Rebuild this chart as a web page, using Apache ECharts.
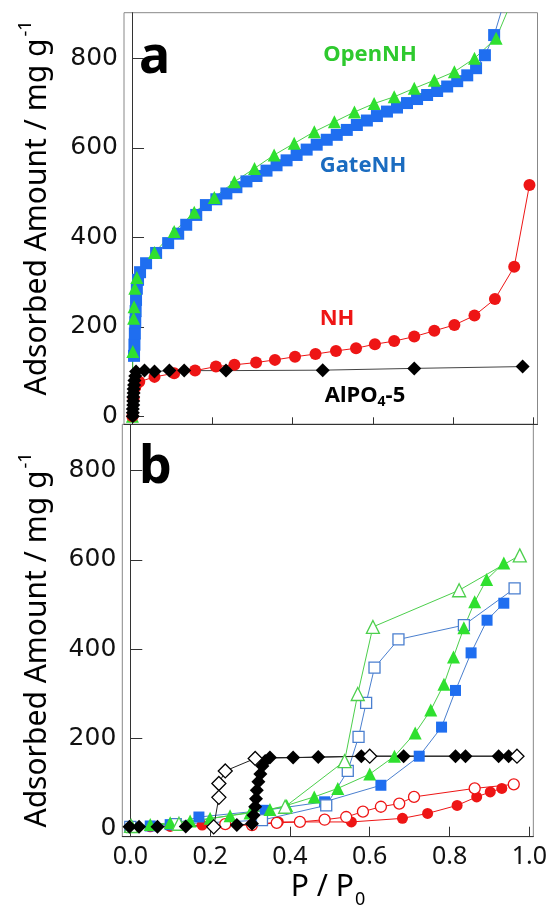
<!DOCTYPE html>
<html><head><meta charset="utf-8">
<script src="https://cdn.jsdelivr.net/npm/echarts@6/dist/echarts.min.js"></script>
<style>html,body{margin:0;padding:0;background:#fff}#c{width:550px;height:919px}</style>
</head><body><div id="c"></div>
<script>
// ---------- Panel a data (P/P0, adsorbed amount) ----------
const aGateP = [0.005,0.006,0.007,0.008,0.009,0.010,0.012,0.015,0.020,0.035,0.060,0.090,0.115,0.135,0.160,0.184,0.210,0.235,0.260,0.285,0.310,0.335,0.360,0.385,0.410,0.435,0.460,0.485,0.510,0.535,0.560,0.585,0.610,0.635,0.660,0.685,0.710,0.735,0.760,0.785,0.810,0.835,0.857,0.879,0.902,0.935];
const aGateV = [135,160,185,210,235,260,285,305,322,342,365,387,408,428,450,472,485,498,512,525,537,549,561,572,584,596,607,618,629,640,651,661,671,681,690,700,709,718,727,737,749,762,778,807,852,950];
const aOpenP = [0.001,0.002,0.004,0.005,0.007,0.012,0.056,0.105,0.155,0.205,0.255,0.305,0.354,0.404,0.454,0.504,0.554,0.603,0.653,0.703,0.753,0.803,0.853,0.907,0.950];
const aOpenV = [0,145,219,245,286,310,366,413,456,489,524,554,584,610,636,658,680,699,714,733,751,770,800,845,937];
const aNHP = [0.001,0.004,0.008,0.018,0.056,0.105,0.157,0.209,0.255,0.309,0.356,0.406,0.457,0.508,0.558,0.605,0.653,0.703,0.753,0.803,0.853,0.904,0.952,0.990];
const aNHV = [0,40,65,77,88,96,102,111,115,120,126,133,139,146,152,161,168,178,191,204,225,262,334,517];
const aAlpoP = [0.002,0.002,0.002,0.003,0.003,0.003,0.004,0.004,0.005,0.006,0.008,0.010,0.031,0.056,0.093,0.130,0.234,0.475,0.703,0.973];
const aAlpoV = [0,8,16,25,34,43,52,61,70,80,90,100,102,100,102,102,102,103,107,111];

// ---------- Panel b data ----------
const bOpenAdsP = [0.005,0.050,0.100,0.150,0.200,0.250,0.300,0.350,0.392,0.461,0.520,0.600,0.662,0.714,0.753,0.786,0.810,0.836,0.863,0.893,0.936];
const bOpenAdsV = [3,8,12,16,22,28,34,42,51,70,89,121,161,213,264,322,383,448,506,556,593];
const bOpenDesP = [0.976,0.824,0.608,0.570,0.537,0.388,0.122,0.002];
const bOpenDesV = [610,532,450,300,150,48,10,5];
const bGateAdsP = [0.002,0.050,0.100,0.172,0.338,0.487,0.628,0.724,0.780,0.815,0.854,0.894,0.936];
const bGateAdsV = [3,5,8,25,40,59,96,161,226,308,392,465,503];
const bGateDesP = [0.963,0.836,0.672,0.612,0.591,0.572,0.545,0.491,0.330,0.114,0.000];
const bGateDesV = [536,454,422,359,280,204,128,51,18,9,3];
const bNHAdsP = [0.000,0.050,0.100,0.180,0.305,0.371,0.554,0.682,0.745,0.819,0.868,0.902,0.931];
const bNHAdsV = [2,3,4,7,7,14,14,22,33,51,70,81,89];
const bNHDesP = [0.961,0.863,0.711,0.674,0.628,0.583,0.541,0.487,0.425,0.367,0.305,0.238];
const bNHDesV = [98,89,70,55,48,37,25,19,14,12,7,9];
const bAlpoAdsP = [-0.002,0.022,0.068,0.139,0.267,0.305,0.309,0.313,0.315,0.317,0.321,0.326,0.331,0.338,0.350,0.408,0.471,0.579,0.685,0.815,0.840,0.923,0.948];
const bAlpoAdsV = [3,3,3,4,7,10,29,48,66,85,104,121,139,150,158,158,159,161,161,161,161,161,161];
const bAlpoDesP = [0.969,0.600,0.313,0.238,0.222,0.222,0.209];
const bAlpoDesV = [161,161,156,128,100,69,3];

const yTicks = [0,200,400,600,800];
const xTicks = [0.0,0.2,0.4,0.6,0.8,1.0];

function zip(p, v){ return p.map((x,i)=>[x, v[i]]); }

const GREEN='#2fe02f', GREENL='#4ccf4c', BLUE='#1f6ef0', BLUEL='#4a7fcf', RED='#ee1515', BLACK='#000000';

function ser(name, xi, p, v, sym, size, color, lineColor, empty){
  return {
    name, type:'line', xAxisIndex:xi, yAxisIndex:xi, data: zip(p,v),
    symbol: sym, symbolSize: size, showSymbol:true,
    lineStyle:{color: lineColor, width:1},
    itemStyle: empty ? {color:'#ffffff', borderColor:color, borderWidth:1.3} : {color:color, borderWidth:0},
    emphasis:{disabled:true},
    animation:false, clip:true, z: 2
  };
}

function yAx(gi, min, max){
  return {
    type:'value', gridIndex:gi, min:min, max:max, splitNumber:5,
    axisLine:{show:true, lineStyle:{color:'#333', width:1}},
    axisTick:{show:true, inside:true, length:12, lineStyle:{color:'#333'},
      customValues: yTicks},
    axisLabel:{show:true, margin:6, fontFamily:'DejaVu Sans', fontSize:25, color:'#111',
      customValues: yTicks,
      formatter: v => yTicks.includes(Math.round(v)) && Math.abs(v-Math.round(v))<1e-6 ? String(Math.round(v)) : ''},
    splitLine:{show:false}
  };
}
function xAx(gi, showLabel, tickLen){
  return {
    type:'value', gridIndex:gi, min:-0.02, max:1.01,
    axisLine:{show:true, onZero:false, lineStyle:{color:'#333', width:1}},
    axisTick:{show:true, inside:true, length:tickLen, lineStyle:{color:'#333'}, customValues: xTicks},
    axisLabel:{show:showLabel, margin:8, fontFamily:'Noto Sans', fontSize:25, color:'#111',
      customValues: xTicks, formatter: v => v.toFixed(1)},
    splitLine:{show:false}
  };
}

const nameRich = {
  n:{fontFamily:'Noto Sans', fontSize:30, color:'#111'},
  s:{fontFamily:'Noto Sans', fontSize:18, color:'#111', padding:[0,0,22,2]}
};

const option = {
  backgroundColor:'#fff',
  animation:false,
  grid:[
    {left:124, right:12.5, top:12.7, height:411.6, show:true, borderColor:'#888', borderWidth:1, backgroundColor:'transparent'},
    {left:122.3, right:14.3, top:424.3, height:412.4, show:true, borderColor:'#888', borderWidth:1, backgroundColor:'transparent'}
  ],
  xAxis:[ xAx(0,false,7), xAx(1,true,10) ],
  yAxis:[ yAx(0,-18,902), yAx(1,-19,903) ],
  series:[
    ser('GateNH-a',0,aGateP,aGateV,'rect',12,BLUE,BLUEL,false),
    ser('OpenNH-a',0,aOpenP,aOpenV,'triangle',13,GREEN,GREENL,false),
    ser('NH-a',0,aNHP,aNHV,'circle',12,RED,RED,false),
    ser('AlPO4-a',0,aAlpoP,aAlpoV,'diamond',14,BLACK,'#444',false),

    ser('NH-ads',1,bNHAdsP,bNHAdsV,'circle',11,RED,RED,false),
    ser('NH-des',1,bNHDesP,bNHDesV,'circle',11,RED,RED,true),
    ser('Gate-ads',1,bGateAdsP,bGateAdsV,'rect',11,BLUE,BLUEL,false),
    ser('Gate-des',1,bGateDesP,bGateDesV,'rect',11,BLUEL,BLUEL,true),
    ser('Open-ads',1,bOpenAdsP,bOpenAdsV,'triangle',13,GREEN,GREENL,false),
    ser('Open-des',1,bOpenDesP,bOpenDesV,'triangle',13,GREENL,GREENL,true),
    ser('Alpo-ads',1,bAlpoAdsP,bAlpoAdsV,'diamond',14,BLACK,'#222',false),
    ser('Alpo-des',1,bAlpoDesP,bAlpoDesV,'diamond',14,BLACK,'#222',true)
  ],
  graphic:[
    {type:'text', x:37, y:208, rotation:Math.PI/2, style:{text:'{n|Adsorbed Amount / mg g}{s|-1}', rich:nameRich, align:'center', verticalAlign:'middle'}},
    {type:'text', x:37, y:640, rotation:Math.PI/2, style:{text:'{n|Adsorbed Amount / mg g}{s|-1}', rich:nameRich, align:'center', verticalAlign:'middle'}},
    {type:'text', x:328, y:887, style:{text:'{n|P / P}{s|0}', rich:{n:{fontFamily:'Noto Sans',fontSize:30,color:'#111'}, s:{fontFamily:'Noto Sans',fontSize:18,color:'#111',padding:[26,0,0,1]}}, align:'center', verticalAlign:'middle'}},
    {type:'text', x:139, y:58, style:{text:'a', font:'bold 52px "Noto Sans"', fill:'#000', align:'left', verticalAlign:'middle'}},
    {type:'text', x:139, y:468, style:{text:'b', font:'bold 52px "Noto Sans"', fill:'#000', align:'left', verticalAlign:'middle'}},
    {type:'text', x:370, y:55, style:{text:'OpenNH', font:'bold 22px "Noto Sans"', fill:'#2ec92e', align:'center', verticalAlign:'middle'}},
    {type:'text', x:363, y:166, style:{text:'GateNH', font:'bold 22px "Noto Sans"', fill:'#1b6cc0', align:'center', verticalAlign:'middle'}},
    {type:'text', x:337, y:319, style:{text:'NH', font:'bold 22px "Noto Sans"', fill:'#ee1515', align:'center', verticalAlign:'middle'}},
    {type:'text', x:365, y:396, style:{text:'{n|AlPO}{s|4}{n|-5}', rich:{n:{fontFamily:'Noto Sans',fontWeight:'bold',fontSize:22,color:'#111'}, s:{fontFamily:'Noto Sans',fontWeight:'bold',fontSize:14,color:'#111',padding:[12,0,0,0]}}, align:'center', verticalAlign:'middle'}}
  ]
};
const chart = echarts.init(document.getElementById('c'), null, {renderer:'canvas'});
chart.setOption(option);
</script></body></html>
